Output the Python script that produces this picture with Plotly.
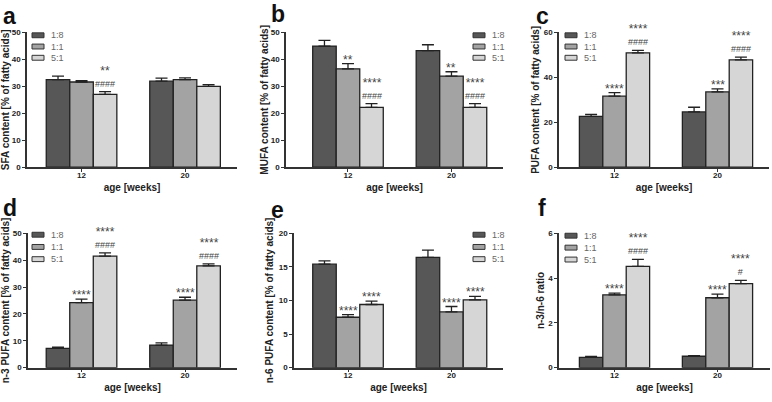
import plotly.graph_objects as go

ages = ["12", "20"]
ratios = ["1:8", "1:1", "5:1"]
colors = ["#575757", "#a3a3a3", "#d6d6d6"]

panel_letters = ["a", "b", "c", "d", "e", "f"]
y_titles = ["SFA content [% of fatty acids]", "MUFA content [% of fatty acids]",
            "PUFA content [% of fatty acids]", "n-3 PUFA content [% of fatty acids]",
            "n-6 PUFA content [% of fatty acids]", "n-3/n-6 ratio"]
x_title = "age [weeks]"

# means per ratio (rows: 1:8, 1:1, 5:1), columns: 12 wk, 20 wk
sfa_mean = [[32.5, 31.9], [31.6, 32.5], [27.0, 30.0]]
sfa_sem = [[1.3, 1.1], [0.5, 0.6], [1.0, 0.6]]
mufa_mean = [[44.9, 43.2], [36.5, 33.8], [22.2, 22.2]]
mufa_sem = [[2.1, 2.2], [1.9, 1.6], [1.4, 1.4]]
pufa_mean = [[22.6, 24.6], [31.6, 33.5], [50.9, 47.8]]
pufa_sem = [[0.9, 2.1], [1.6, 1.4], [1.1, 1.2]]
n3_mean = [[7.2, 8.4], [24.2, 25.1], [41.5, 37.9]]
n3_sem = [[0.4, 0.8], [1.3, 1.1], [1.2, 0.7]]
n6_mean = [[15.4, 16.4], [7.5, 8.3], [9.4, 10.1]]
n6_sem = [[0.5, 1.1], [0.4, 0.8], [0.5, 0.5]]
ratio_mean = [[0.46, 0.51], [3.25, 3.12], [4.52, 3.75]]
ratio_sem = [[0.04, 0.03], [0.08, 0.16], [0.31, 0.15]]

# significance marks (vs 1:8 = stars, vs 1:1 = hashes)
sfa_stars = [["", ""], ["", ""], ["**", ""]]
sfa_hash = [["", ""], ["", ""], ["####", ""]]
mufa_stars = [["", ""], ["**", "**"], ["****", "****"]]
mufa_hash = [["", ""], ["", ""], ["####", "####"]]
pufa_stars = [["", ""], ["****", "***"], ["****", "****"]]
pufa_hash = [["", ""], ["", ""], ["####", "####"]]
n3_stars = [["", ""], ["****", "****"], ["****", "****"]]
n3_hash = [["", ""], ["", ""], ["####", "####"]]
n6_stars = [["", ""], ["****", "****"], ["****", "****"]]
n6_hash = [["", ""], ["", ""], ["", ""]]
ratio_stars = [["", ""], ["****", "****"], ["****", "****"]]
ratio_hash = [["", ""], ["", ""], ["####", "#"]]

y_ticks = [[0, 10, 20, 30, 40, 50], [0, 10, 20, 30, 40, 50], [0, 20, 40, 60],
           [0, 10, 20, 30, 40, 50], [0, 5, 10, 15, 20], [0, 2, 4, 6]]

means = [sfa_mean, mufa_mean, pufa_mean, n3_mean, n6_mean, ratio_mean]
sems = [sfa_sem, mufa_sem, pufa_sem, n3_sem, n6_sem, ratio_sem]
stars = [sfa_stars, mufa_stars, pufa_stars, n3_stars, n6_stars, ratio_stars]
hashes = [sfa_hash, mufa_hash, pufa_hash, n3_hash, n6_hash, ratio_hash]

W, H = 772, 402
# layout (pixels)
x_dom_px = [(27, 237), (286, 503), (559, 769), (28, 237), (294, 503), (559, 770)]
y_dom_px = [(29, 167), (29, 167), (29, 167), (234.5, 372), (234.5, 372), (234.5, 372)]
x_ranges = [(-0.527, 1.502), (-0.599, 1.498), (-0.539, 1.5),
            (-0.517, 1.502), (-0.522, 1.498), (-0.539, 1.51)]
legend_pos = [(32, 32), (473, 32), (565, 32), (32, 236), (473, 236), (565, 237)]
letter_pos = [(1, 12), (269, 10), (534, 12), (1, 209), (269, 211), (536, 209)]
row_gap = [11.5, 11.5, 11.5, 12.5, 12.5, 12.2]
ytitle_standoff = [3, 0, 2, 3, 3, 2]

BARGAP = 0.318
bw = (1 - BARGAP) / 3
FONT = "Liberation Sans, Arial, sans-serif"

fig = go.Figure()
shapes = []
annotations = []

for p in range(6):
    sfx = "" if p == 0 else str(p + 1)
    xa, ya = "x" + sfx, "y" + sfx
    for s in range(3):
        fig.add_trace(go.Bar(
            x=ages, y=means[p][s], name=ratios[s], showlegend=False,
            marker=dict(color=colors[s], line=dict(color="#222222", width=1.3)),
            error_y=dict(type="data", array=sems[p][s], arrayminus=[0, 0], symmetric=False,
                         color="#222222", thickness=1.3, width=6),
            xaxis=xa, yaxis=ya, offsetgroup=str(s),
        ))
        for i in range(2):
            top = means[p][s][i] + sems[p][s][i]
            xpos = i + (s - 1) * bw
            st, hs = stars[p][s][i], hashes[p][s][i]
            if not (st or hs):
                continue
            if hs:
                text = "<span style='font-size:12px'>" + st + "</span><br>" + hs
                ysh = 1
            else:
                text = "<span style='font-size:12px'>" + st + "</span>"
                ysh = -5
            annotations.append(dict(
                x=xpos, y=top, xref=xa, yref=ya, text=text,
                showarrow=False, yanchor="bottom", yshift=ysh,
                font=dict(family=FONT, size=9, color="#444444"),
            ))
    x0, x1 = x_dom_px[p]
    yt, yb = y_dom_px[p]
    ax_common = dict(showline=True, linecolor="#333333", linewidth=1.5, showgrid=False,
                     zeroline=False, ticks="outside", ticklen=3, tickwidth=1.3,
                     tickcolor="#333333",
                     tickfont=dict(family=FONT, size=8, color="#222222", weight="bold"))
    fig.update_layout(**{
        "xaxis" + sfx: dict(domain=[x0 / W, x1 / W], anchor=ya, range=list(x_ranges[p]),
                            type="category", tickvals=ages, ticklabelstandoff=-4,
                            title=dict(text=x_title, standoff=5,
                                       font=dict(family=FONT, size=10, color="#222222", weight="bold")),
                            **ax_common),
        "yaxis" + sfx: dict(domain=[(H - yb) / H, (H - yt) / H], anchor=xa,
                            range=[0, y_ticks[p][-1]], tickvals=y_ticks[p],
                            title=dict(text=y_titles[p], standoff=ytitle_standoff[p],
                                       font=dict(family=FONT, size=10, color="#222222", weight="bold")),
                            **ax_common),
    })
    # legend
    lx, ly = legend_pos[p]
    for s in range(3):
        cy = ly + s * row_gap[p]
        shapes.append(dict(type="rect", xref="paper", yref="paper",
                           x0=lx / W, x1=(lx + 12) / W,
                           y0=(H - cy - 2.5) / H, y1=(H - cy + 2.5) / H,
                           fillcolor=colors[s], line=dict(color="#333333", width=1)))
        annotations.append(dict(x=(lx + 17) / W, y=(H - cy) / H, xref="paper", yref="paper",
                                text=ratios[s], showarrow=False, xanchor="left", yanchor="middle",
                                font=dict(family=FONT, size=9, color="#666666")))
    # panel letter
    lx, ly = letter_pos[p]
    annotations.append(dict(x=lx / W, y=(H - ly) / H, xref="paper", yref="paper",
                            text=panel_letters[p], showarrow=False, xanchor="left", yanchor="middle",
                            font=dict(family=FONT, size=23, color="#111111", weight="bold")))

fig.update_layout(width=W, height=H, margin=dict(l=0, r=0, t=0, b=0),
                  paper_bgcolor="white", plot_bgcolor="white",
                  barmode="group", bargap=BARGAP, bargroupgap=0,
                  shapes=shapes, annotations=annotations)

fig.write_html("out.html", config={"displayModeBar": False},
               post_script="document.body.style.margin='0';document.body.style.overflow='hidden';")
